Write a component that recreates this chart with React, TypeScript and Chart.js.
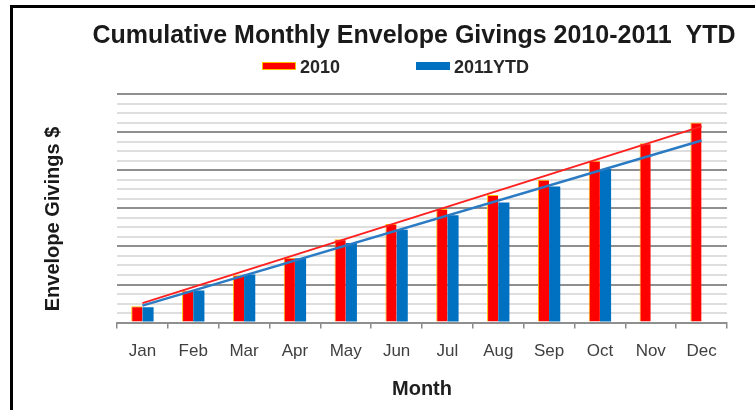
import React, { useEffect, useRef } from 'react';
import { Chart, registerables } from 'chart.js';

Chart.register(...registerables);

const chartTitle = 'Cumulative Monthly Envelope Givings 2010-2011  YTD';
const yAxisTitle = 'Envelope Givings $';
const xAxisTitle = 'Month';

const months = ['Jan', 'Feb', 'Mar', 'Apr', 'May', 'Jun', 'Jul', 'Aug', 'Sep', 'Oct', 'Nov', 'Dec'];
const seriesNames = ['2010', '2011YTD'];

const givings2010 = [4300, 8400, 12400, 17000, 21900, 25900, 29800, 33500, 37500, 42500, 47100, 52500];
const givings2011YTD = [4000, 8400, 12600, 16900, 20900, 24400, 28200, 31500, 35700, 40300, null, null];

// linear trend lines (end points)
const trend2010 = [5100, null, null, null, null, null, null, null, null, null, null, 51500];
const trend2011YTD = [4450, null, null, null, null, null, null, null, null, null, null, 47800];

const yMin = 0;
const yMax = 60000;
const yStep = 2500;
const yMajorStep = 10000;

const FONT = '"Liberation Sans", Arial, Helvetica, sans-serif';
const RED = '#FF0000';
const BLUE = '#0070C0';

const decorPlugin = {
  id: 'decor',
  afterDraw(chart: any) {
    const ctx = chart.ctx as CanvasRenderingContext2D;
    ctx.save();
    // title
    ctx.fillStyle = '#1a1a1a';
    ctx.font = `bold 25px ${FONT}`;
    ctx.textAlign = 'center';
    ctx.textBaseline = 'alphabetic';
    ctx.fillText(chartTitle, 414, 43);

    // legend
    const legendX = [262, 416];
    const bars = chart.data.datasets.filter((d: any) => d.type === 'bar');
    ctx.font = `bold 18px ${FONT}`;
    ctx.textAlign = 'left';
    bars.forEach((ds: any, i: number) => {
      const x = legendX[i];
      ctx.fillStyle = ds.backgroundColor;
      ctx.fillRect(x, 62, 34, 8);
      if (i === 0) {
        ctx.strokeStyle = '#FFC000';
        ctx.lineWidth = 1;
        ctx.strokeRect(x + 0.5, 62.5, 33, 7);
      }
      ctx.fillStyle = '#262626';
      ctx.fillText(ds.label, x + 38, 72.5);
    });

    // y axis title
    ctx.translate(53, 219);
    ctx.rotate(-Math.PI / 2);
    ctx.font = `bold 20px ${FONT}`;
    ctx.textAlign = 'center';
    ctx.textBaseline = 'middle';
    ctx.fillStyle = '#1a1a1a';
    ctx.fillText(yAxisTitle, 0, 0);
    ctx.restore();
  },
};

export default function App() {
  const canvasRef = useRef<HTMLCanvasElement>(null);

  useEffect(() => {
    if (!canvasRef.current) return;
    Chart.defaults.font.family = FONT;
    const chart = new Chart(canvasRef.current, {
      type: 'bar',
      data: {
        labels: months,
        datasets: [
          {
            type: 'line',
            label: 'trend ' + seriesNames[1],
            data: trend2011YTD,
            borderColor: '#2B7BC4',
            borderWidth: 2.5,
            pointRadius: 0,
            spanGaps: true,
            fill: false,
            order: 0,
          } as any,
          {
            type: 'line',
            label: 'trend ' + seriesNames[0],
            data: trend2010,
            borderColor: '#FF2020',
            borderWidth: 2,
            pointRadius: 0,
            spanGaps: true,
            fill: false,
            order: 1,
          } as any,
          {
            type: 'bar',
            label: seriesNames[0],
            data: givings2010,
            backgroundColor: RED,
            borderColor: '#FFC000',
            borderWidth: { left: 1, top: 1, right: 0, bottom: 0 },
            borderSkipped: false,
            barPercentage: 1,
            categoryPercentage: 0.44,
            order: 2,
          } as any,
          {
            type: 'bar',
            label: seriesNames[1],
            data: givings2011YTD,
            backgroundColor: BLUE,
            borderWidth: 0,
            barPercentage: 1,
            categoryPercentage: 0.44,
            order: 2,
          } as any,
        ],
      },
      options: {
        animation: false,
        responsive: false,
        devicePixelRatio: 1,
        layout: { padding: { left: 117, right: 28, top: 94, bottom: 9 } },
        plugins: {
          legend: { display: false },
          title: { display: false },
          tooltip: { enabled: false },
        },
        scales: {
          x: {
            offset: true,
            grid: {
              display: true,
              drawOnChartArea: false,
              drawTicks: true,
              tickLength: 6,
              color: '#8a8a8a',
              lineWidth: 1.5,
            },
            border: { display: true, color: '#8f8f8f', width: 2 },
            ticks: {
              color: '#404040',
              font: { size: 17 },
              padding: 13,
              maxRotation: 0,
            },
            title: {
              display: true,
              text: xAxisTitle,
              color: '#1f1f1f',
              font: { size: 20, weight: 'bold' },
              padding: { top: 2, bottom: 0 },
            },
          },
          y: {
            min: yMin,
            max: yMax,
            ticks: { display: false, stepSize: yStep },
            border: { display: false },
            grid: {
              drawTicks: false,
              lineWidth: 2,
              color: (c: any) =>
                c.tick && c.tick.value % yMajorStep === 0 ? '#8f8f8f' : '#dedede',
            },
          },
        },
      },
      plugins: [decorPlugin],
    });
    return () => chart.destroy();
  }, []);

  return (
    <div
      style={{
        position: 'fixed',
        left: 0,
        top: 0,
        width: 755,
        height: 410,
        overflow: 'hidden',
        background: '#fff',
      }}
    >
      <canvas
        ref={canvasRef}
        width={755}
        height={410}
        style={{ position: 'absolute', left: 0, top: 0, width: 755, height: 410 }}
      />
      <div
        style={{
          position: 'absolute',
          left: 10,
          top: 5,
          width: 900,
          height: 600,
          borderTop: '3px solid #000',
          borderLeft: '3px solid #000',
          pointerEvents: 'none',
        }}
      />
    </div>
  );
}
